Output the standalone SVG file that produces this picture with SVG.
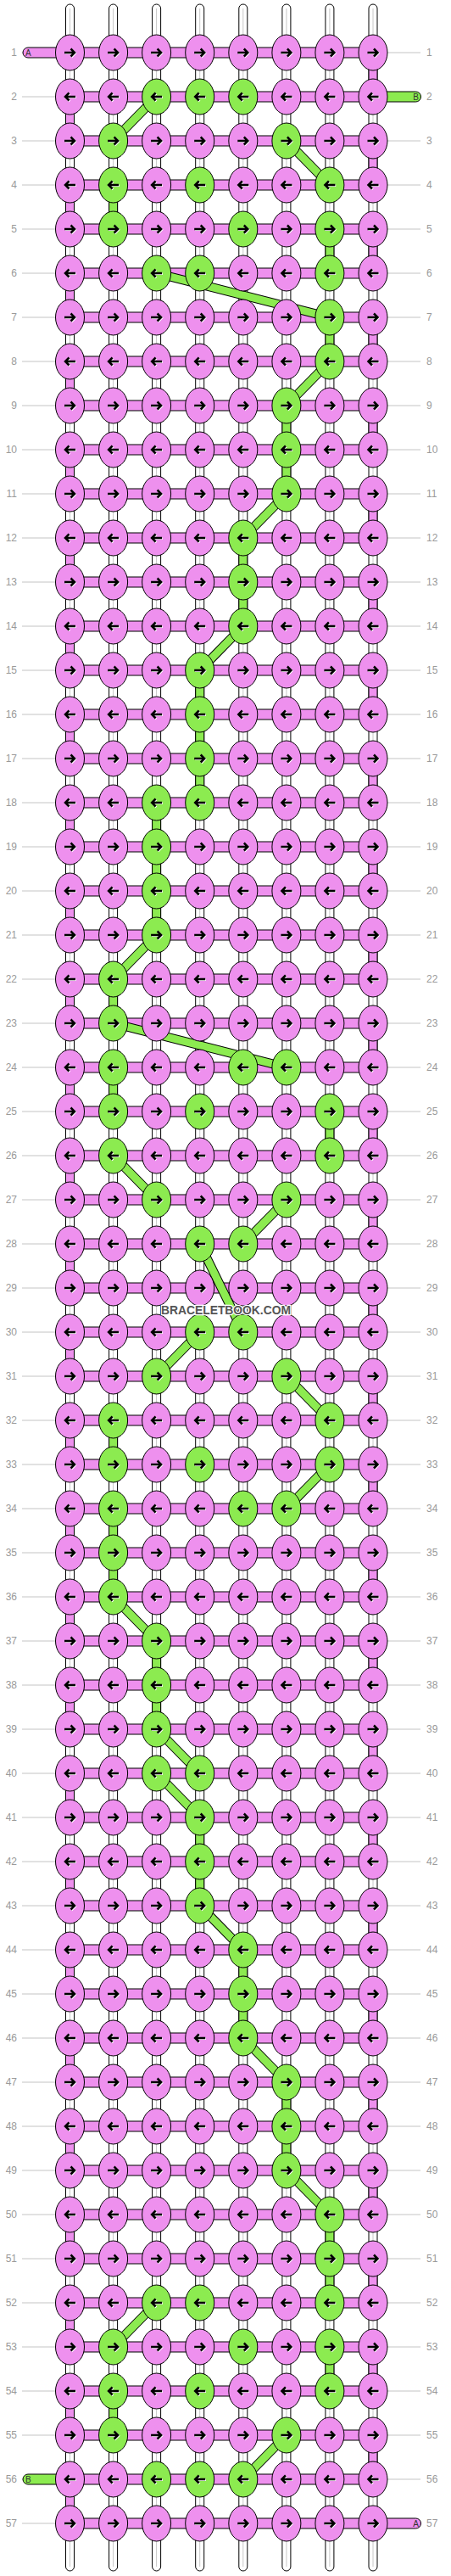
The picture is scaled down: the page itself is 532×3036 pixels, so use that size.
<svg xmlns="http://www.w3.org/2000/svg" xmlns:xlink="http://www.w3.org/1999/xlink" width="532" height="3036" viewBox="0 0 532 3036">
<style>
.p{fill:#EE90EE}
.g{fill:#8CEB50}
.k{stroke:#000;stroke-width:1}
.seg{stroke:#000;stroke-width:1}
.tube{fill:#fff;stroke:#000;stroke-width:1}
.lbl{font-family:"Liberation Sans",Arial,sans-serif;font-size:12px;fill:#9a9a9a}
.l{text-anchor:end}
.tl{font-family:"Liberation Sans",Arial,sans-serif;font-size:10px;fill:#333}
.dk{stroke:#000;stroke-width:11;fill:none}
.dg{stroke:#8CEB50;stroke-width:9;fill:none}
.wm{font-family:"Liberation Sans",Arial,sans-serif;font-size:15px;font-weight:bold;fill:#555;stroke:#fff;stroke-width:2.5;paint-order:stroke;text-anchor:middle}
</style>
<defs>
<path id="aR" d="M-6.5 0H5M1 -4.5L5.5 0L1 4.5" fill="none" stroke-width="2.5"/>
<path id="aL" d="M6.5 0H-5M-1 -4.5L-5.5 0L-1 4.5" fill="none" stroke-width="2.5"/>
<g id="pR"><ellipse rx="17" ry="21" class="p k"/><use href="#aR" stroke="#fff" x="0.8" y="0.8"/><use href="#aR" stroke="#000"/></g>
<g id="pL"><ellipse rx="17" ry="21" class="p k"/><use href="#aL" stroke="#fff" x="0.8" y="0.8"/><use href="#aL" stroke="#000"/></g>
<g id="gR"><ellipse rx="17" ry="21" class="g k"/><use href="#aR" stroke="#fff" x="0.8" y="0.8"/><use href="#aR" stroke="#000"/></g>
<g id="gL"><ellipse rx="17" ry="21" class="g k"/><use href="#aL" stroke="#fff" x="0.8" y="0.8"/><use href="#aL" stroke="#000"/></g>
</defs>
<rect width="532" height="3036" fill="#fff"/>
<path id="rowlines" fill="none" stroke="#c4c4c4" stroke-width="1" d="M26 62H496M26 114H496M26 166H496M26 218H496M26 270H496M26 322H496M26 374H496M26 426H496M26 478H496M26 530H496M26 582H496M26 634H496M26 686H496M26 738H496M26 790H496M26 842H496M26 894H496M26 946H496M26 998H496M26 1050H496M26 1102H496M26 1154H496M26 1206H496M26 1258H496M26 1310H496M26 1362H496M26 1414H496M26 1466H496M26 1518H496M26 1570H496M26 1622H496M26 1674H496M26 1726H496M26 1778H496M26 1830H496M26 1882H496M26 1934H496M26 1986H496M26 2038H496M26 2090H496M26 2142H496M26 2194H496M26 2246H496M26 2298H496M26 2350H496M26 2402H496M26 2454H496M26 2506H496M26 2558H496M26 2610H496M26 2662H496M26 2714H496M26 2766H496M26 2818H496M26 2870H496M26 2922H496M26 2974H496"/>
<g id="labels" class="lbl">
<text class="l" x="20" y="66.3">1</text><text x="503" y="66.3">1</text>
<text class="l" x="20" y="118.3">2</text><text x="503" y="118.3">2</text>
<text class="l" x="20" y="170.3">3</text><text x="503" y="170.3">3</text>
<text class="l" x="20" y="222.3">4</text><text x="503" y="222.3">4</text>
<text class="l" x="20" y="274.3">5</text><text x="503" y="274.3">5</text>
<text class="l" x="20" y="326.3">6</text><text x="503" y="326.3">6</text>
<text class="l" x="20" y="378.3">7</text><text x="503" y="378.3">7</text>
<text class="l" x="20" y="430.3">8</text><text x="503" y="430.3">8</text>
<text class="l" x="20" y="482.3">9</text><text x="503" y="482.3">9</text>
<text class="l" x="20" y="534.3">10</text><text x="503" y="534.3">10</text>
<text class="l" x="20" y="586.3">11</text><text x="503" y="586.3">11</text>
<text class="l" x="20" y="638.3">12</text><text x="503" y="638.3">12</text>
<text class="l" x="20" y="690.3">13</text><text x="503" y="690.3">13</text>
<text class="l" x="20" y="742.3">14</text><text x="503" y="742.3">14</text>
<text class="l" x="20" y="794.3">15</text><text x="503" y="794.3">15</text>
<text class="l" x="20" y="846.3">16</text><text x="503" y="846.3">16</text>
<text class="l" x="20" y="898.3">17</text><text x="503" y="898.3">17</text>
<text class="l" x="20" y="950.3">18</text><text x="503" y="950.3">18</text>
<text class="l" x="20" y="1002.3">19</text><text x="503" y="1002.3">19</text>
<text class="l" x="20" y="1054.3">20</text><text x="503" y="1054.3">20</text>
<text class="l" x="20" y="1106.3">21</text><text x="503" y="1106.3">21</text>
<text class="l" x="20" y="1158.3">22</text><text x="503" y="1158.3">22</text>
<text class="l" x="20" y="1210.3">23</text><text x="503" y="1210.3">23</text>
<text class="l" x="20" y="1262.3">24</text><text x="503" y="1262.3">24</text>
<text class="l" x="20" y="1314.3">25</text><text x="503" y="1314.3">25</text>
<text class="l" x="20" y="1366.3">26</text><text x="503" y="1366.3">26</text>
<text class="l" x="20" y="1418.3">27</text><text x="503" y="1418.3">27</text>
<text class="l" x="20" y="1470.3">28</text><text x="503" y="1470.3">28</text>
<text class="l" x="20" y="1522.3">29</text><text x="503" y="1522.3">29</text>
<text class="l" x="20" y="1574.3">30</text><text x="503" y="1574.3">30</text>
<text class="l" x="20" y="1626.3">31</text><text x="503" y="1626.3">31</text>
<text class="l" x="20" y="1678.3">32</text><text x="503" y="1678.3">32</text>
<text class="l" x="20" y="1730.3">33</text><text x="503" y="1730.3">33</text>
<text class="l" x="20" y="1782.3">34</text><text x="503" y="1782.3">34</text>
<text class="l" x="20" y="1834.3">35</text><text x="503" y="1834.3">35</text>
<text class="l" x="20" y="1886.3">36</text><text x="503" y="1886.3">36</text>
<text class="l" x="20" y="1938.3">37</text><text x="503" y="1938.3">37</text>
<text class="l" x="20" y="1990.3">38</text><text x="503" y="1990.3">38</text>
<text class="l" x="20" y="2042.3">39</text><text x="503" y="2042.3">39</text>
<text class="l" x="20" y="2094.3">40</text><text x="503" y="2094.3">40</text>
<text class="l" x="20" y="2146.3">41</text><text x="503" y="2146.3">41</text>
<text class="l" x="20" y="2198.3">42</text><text x="503" y="2198.3">42</text>
<text class="l" x="20" y="2250.3">43</text><text x="503" y="2250.3">43</text>
<text class="l" x="20" y="2302.3">44</text><text x="503" y="2302.3">44</text>
<text class="l" x="20" y="2354.3">45</text><text x="503" y="2354.3">45</text>
<text class="l" x="20" y="2406.3">46</text><text x="503" y="2406.3">46</text>
<text class="l" x="20" y="2458.3">47</text><text x="503" y="2458.3">47</text>
<text class="l" x="20" y="2510.3">48</text><text x="503" y="2510.3">48</text>
<text class="l" x="20" y="2562.3">49</text><text x="503" y="2562.3">49</text>
<text class="l" x="20" y="2614.3">50</text><text x="503" y="2614.3">50</text>
<text class="l" x="20" y="2666.3">51</text><text x="503" y="2666.3">51</text>
<text class="l" x="20" y="2718.3">52</text><text x="503" y="2718.3">52</text>
<text class="l" x="20" y="2770.3">53</text><text x="503" y="2770.3">53</text>
<text class="l" x="20" y="2822.3">54</text><text x="503" y="2822.3">54</text>
<text class="l" x="20" y="2874.3">55</text><text x="503" y="2874.3">55</text>
<text class="l" x="20" y="2926.3">56</text><text x="503" y="2926.3">56</text>
<text class="l" x="20" y="2978.3">57</text><text x="503" y="2978.3">57</text>
</g>
<g id="connectors">
<g id="strands">
<rect class="tube" x="77.5" y="5" width="10" height="3025" rx="5"/>
<rect class="tube" x="128.6" y="5" width="10" height="3025" rx="5"/>
<rect class="tube" x="179.6" y="5" width="10" height="3025" rx="5"/>
<rect class="tube" x="230.7" y="5" width="10" height="3025" rx="5"/>
<rect class="tube" x="281.8" y="5" width="10" height="3025" rx="5"/>
<rect class="tube" x="332.9" y="5" width="10" height="3025" rx="5"/>
<rect class="tube" x="383.9" y="5" width="10" height="3025" rx="5"/>
<rect class="tube" x="435" y="5" width="10" height="3025" rx="5"/>
<path fill="none" stroke="#c8c8c8" stroke-width="1" d="M82.5 10V3025M133.6 10V3025M184.6 10V3025M235.7 10V3025M286.8 10V3025M337.9 10V3025M388.9 10V3025M440 10V3025"/>
</g>
<g id="rowbars" class="p seg">
<rect x="82.5" y="56" width="357.5" height="12"/><rect x="82.5" y="108" width="357.5" height="12"/><rect x="82.5" y="160" width="357.5" height="12"/><rect x="82.5" y="212" width="357.5" height="12"/><rect x="82.5" y="264" width="357.5" height="12"/><rect x="82.5" y="316" width="357.5" height="12"/><rect x="82.5" y="368" width="357.5" height="12"/><rect x="82.5" y="420" width="357.5" height="12"/><rect x="82.5" y="472" width="357.5" height="12"/><rect x="82.5" y="524" width="357.5" height="12"/>
<rect x="82.5" y="576" width="357.5" height="12"/><rect x="82.5" y="628" width="357.5" height="12"/><rect x="82.5" y="680" width="357.5" height="12"/><rect x="82.5" y="732" width="357.5" height="12"/><rect x="82.5" y="784" width="357.5" height="12"/><rect x="82.5" y="836" width="357.5" height="12"/><rect x="82.5" y="888" width="357.5" height="12"/><rect x="82.5" y="940" width="357.5" height="12"/><rect x="82.5" y="992" width="357.5" height="12"/><rect x="82.5" y="1044" width="357.5" height="12"/>
<rect x="82.5" y="1096" width="357.5" height="12"/><rect x="82.5" y="1148" width="357.5" height="12"/><rect x="82.5" y="1200" width="357.5" height="12"/><rect x="82.5" y="1252" width="357.5" height="12"/><rect x="82.5" y="1304" width="357.5" height="12"/><rect x="82.5" y="1356" width="357.5" height="12"/><rect x="82.5" y="1408" width="357.5" height="12"/><rect x="82.5" y="1460" width="357.5" height="12"/><rect x="82.5" y="1512" width="357.5" height="12"/><rect x="82.5" y="1564" width="357.5" height="12"/>
<rect x="82.5" y="1616" width="357.5" height="12"/><rect x="82.5" y="1668" width="357.5" height="12"/><rect x="82.5" y="1720" width="357.5" height="12"/><rect x="82.5" y="1772" width="357.5" height="12"/><rect x="82.5" y="1824" width="357.5" height="12"/><rect x="82.5" y="1876" width="357.5" height="12"/><rect x="82.5" y="1928" width="357.5" height="12"/><rect x="82.5" y="1980" width="357.5" height="12"/><rect x="82.5" y="2032" width="357.5" height="12"/><rect x="82.5" y="2084" width="357.5" height="12"/>
<rect x="82.5" y="2136" width="357.5" height="12"/><rect x="82.5" y="2188" width="357.5" height="12"/><rect x="82.5" y="2240" width="357.5" height="12"/><rect x="82.5" y="2292" width="357.5" height="12"/><rect x="82.5" y="2344" width="357.5" height="12"/><rect x="82.5" y="2396" width="357.5" height="12"/><rect x="82.5" y="2448" width="357.5" height="12"/><rect x="82.5" y="2500" width="357.5" height="12"/><rect x="82.5" y="2552" width="357.5" height="12"/><rect x="82.5" y="2604" width="357.5" height="12"/>
<rect x="82.5" y="2656" width="357.5" height="12"/><rect x="82.5" y="2708" width="357.5" height="12"/><rect x="82.5" y="2760" width="357.5" height="12"/><rect x="82.5" y="2812" width="357.5" height="12"/><rect x="82.5" y="2864" width="357.5" height="12"/><rect x="82.5" y="2916" width="357.5" height="12"/><rect x="82.5" y="2968" width="357.5" height="12"/>
</g>
<g id="turns" class="p seg">
<rect x="435" y="62" width="10" height="52"/><rect x="435" y="166" width="10" height="52"/><rect x="435" y="270" width="10" height="52"/><rect x="435" y="374" width="10" height="52"/><rect x="435" y="478" width="10" height="52"/><rect x="435" y="582" width="10" height="52"/><rect x="435" y="686" width="10" height="52"/><rect x="435" y="790" width="10" height="52"/><rect x="435" y="894" width="10" height="52"/><rect x="435" y="998" width="10" height="52"/><rect x="435" y="1102" width="10" height="52"/><rect x="435" y="1206" width="10" height="52"/><rect x="435" y="1310" width="10" height="52"/><rect x="435" y="1414" width="10" height="52"/>
<rect x="435" y="1518" width="10" height="52"/><rect x="435" y="1622" width="10" height="52"/><rect x="435" y="1726" width="10" height="52"/><rect x="435" y="1830" width="10" height="52"/><rect x="435" y="1934" width="10" height="52"/><rect x="435" y="2038" width="10" height="52"/><rect x="435" y="2142" width="10" height="52"/><rect x="435" y="2246" width="10" height="52"/><rect x="435" y="2350" width="10" height="52"/><rect x="435" y="2454" width="10" height="52"/><rect x="435" y="2558" width="10" height="52"/><rect x="435" y="2662" width="10" height="52"/><rect x="435" y="2766" width="10" height="52"/><rect x="435" y="2870" width="10" height="52"/>
<rect x="77.5" y="114" width="10" height="52"/><rect x="77.5" y="218" width="10" height="52"/><rect x="77.5" y="322" width="10" height="52"/><rect x="77.5" y="426" width="10" height="52"/><rect x="77.5" y="530" width="10" height="52"/><rect x="77.5" y="634" width="10" height="52"/><rect x="77.5" y="738" width="10" height="52"/><rect x="77.5" y="842" width="10" height="52"/><rect x="77.5" y="946" width="10" height="52"/><rect x="77.5" y="1050" width="10" height="52"/><rect x="77.5" y="1154" width="10" height="52"/><rect x="77.5" y="1258" width="10" height="52"/><rect x="77.5" y="1362" width="10" height="52"/><rect x="77.5" y="1466" width="10" height="52"/>
<rect x="77.5" y="1570" width="10" height="52"/><rect x="77.5" y="1674" width="10" height="52"/><rect x="77.5" y="1778" width="10" height="52"/><rect x="77.5" y="1882" width="10" height="52"/><rect x="77.5" y="1986" width="10" height="52"/><rect x="77.5" y="2090" width="10" height="52"/><rect x="77.5" y="2194" width="10" height="52"/><rect x="77.5" y="2298" width="10" height="52"/><rect x="77.5" y="2402" width="10" height="52"/><rect x="77.5" y="2506" width="10" height="52"/><rect x="77.5" y="2610" width="10" height="52"/><rect x="77.5" y="2714" width="10" height="52"/><rect x="77.5" y="2818" width="10" height="52"/><rect x="77.5" y="2922" width="10" height="52"/>
</g>
<g id="bvertical" class="g seg">
<rect x="128.6" y="218" width="10" height="52"/><rect x="383.9" y="270" width="10" height="52"/><rect x="383.9" y="374" width="10" height="52"/><rect x="332.9" y="478" width="10" height="52"/><rect x="332.9" y="530" width="10" height="52"/><rect x="281.8" y="634" width="10" height="52"/><rect x="281.8" y="686" width="10" height="52"/><rect x="230.7" y="790" width="10" height="52"/><rect x="230.7" y="842" width="10" height="52"/><rect x="230.7" y="894" width="10" height="52"/><rect x="179.6" y="946" width="10" height="52"/><rect x="179.6" y="998" width="10" height="52"/><rect x="179.6" y="1050" width="10" height="52"/><rect x="128.6" y="1154" width="10" height="52"/><rect x="128.6" y="1258" width="10" height="52"/><rect x="383.9" y="1310" width="10" height="52"/>
<rect x="128.6" y="1674" width="10" height="52"/><rect x="128.6" y="1778" width="10" height="52"/><rect x="128.6" y="1830" width="10" height="52"/><rect x="179.6" y="1934" width="10" height="52"/><rect x="179.6" y="1986" width="10" height="52"/><rect x="230.7" y="2142" width="10" height="52"/><rect x="230.7" y="2194" width="10" height="52"/><rect x="281.8" y="2298" width="10" height="52"/><rect x="281.8" y="2350" width="10" height="52"/><rect x="332.9" y="2454" width="10" height="52"/><rect x="332.9" y="2506" width="10" height="52"/><rect x="383.9" y="2610" width="10" height="52"/><rect x="383.9" y="2662" width="10" height="52"/><rect x="383.9" y="2766" width="10" height="52"/><rect x="128.6" y="2818" width="10" height="52"/>
</g>
<g id="tails">
<rect class="p seg" x="27" y="56" width="60" height="12" rx="6"/>
<rect class="g seg" x="435" y="108" width="61.5" height="12" rx="6"/>
<rect class="g seg" x="27" y="2916" width="60" height="12" rx="6"/>
<rect class="p seg" x="435" y="2968" width="61.5" height="12" rx="6"/>
<text class="tl" x="30" y="65.6">A</text>
<text class="tl" x="494" y="117.6" text-anchor="end">B</text>
<text class="tl" x="30" y="2925.6">B</text>
<text class="tl" x="494" y="2977.6" text-anchor="end">A</text>
</g>
<g id="bdiagonals">
<path class="dk" d="M184.6 114L133.6 166M337.9 166L388.9 218M184.6 322L388.9 374M388.9 426L337.9 478M337.9 582L286.8 634M286.8 738L235.7 790M184.6 1102L133.6 1154M133.6 1206L337.9 1258M133.6 1362L184.6 1414M337.9 1414L286.8 1466M235.7 1466L286.8 1570M235.7 1570L184.6 1622M337.9 1622L388.9 1674M388.9 1726L337.9 1778M133.6 1882L184.6 1934M184.6 2038L235.7 2090M184.6 2090L235.7 2142M235.7 2246L286.8 2298M286.8 2402L337.9 2454M337.9 2558L388.9 2610M184.6 2714L133.6 2766M337.9 2870L286.8 2922"/>
<path class="dg" d="M184.6 114L133.6 166M337.9 166L388.9 218M184.6 322L388.9 374M388.9 426L337.9 478M337.9 582L286.8 634M286.8 738L235.7 790M184.6 1102L133.6 1154M133.6 1206L337.9 1258M133.6 1362L184.6 1414M337.9 1414L286.8 1466M235.7 1466L286.8 1570M235.7 1570L184.6 1622M337.9 1622L388.9 1674M388.9 1726L337.9 1778M133.6 1882L184.6 1934M184.6 2038L235.7 2090M184.6 2090L235.7 2142M235.7 2246L286.8 2298M286.8 2402L337.9 2454M337.9 2558L388.9 2610M184.6 2714L133.6 2766M337.9 2870L286.8 2922"/>
</g>
</g>
<g id="knots">
<g id="row1" transform="translate(0 62)"><g id="k1-1"><use href="#pR" x="82.5"/></g><g id="k1-2"><use href="#pR" x="133.6"/></g><g id="k1-3"><use href="#pR" x="184.6"/></g><g id="k1-4"><use href="#pR" x="235.7"/></g><g id="k1-5"><use href="#pR" x="286.8"/></g><g id="k1-6"><use href="#pR" x="337.9"/></g><g id="k1-7"><use href="#pR" x="388.9"/></g><g id="k1-8"><use href="#pR" x="440"/></g></g>
<g id="row2" transform="translate(0 114)"><g id="k2-1"><use href="#pL" x="82.5"/></g><g id="k2-2"><use href="#pL" x="133.6"/></g><g id="k2-3"><use href="#gL" x="184.6"/></g><g id="k2-4"><use href="#gL" x="235.7"/></g><g id="k2-5"><use href="#gL" x="286.8"/></g><g id="k2-6"><use href="#pL" x="337.9"/></g><g id="k2-7"><use href="#pL" x="388.9"/></g><g id="k2-8"><use href="#pL" x="440"/></g></g>
<g id="row3" transform="translate(0 166)"><g id="k3-1"><use href="#pR" x="82.5"/></g><g id="k3-2"><use href="#gR" x="133.6"/></g><g id="k3-3"><use href="#pR" x="184.6"/></g><g id="k3-4"><use href="#pR" x="235.7"/></g><g id="k3-5"><use href="#pR" x="286.8"/></g><g id="k3-6"><use href="#gR" x="337.9"/></g><g id="k3-7"><use href="#pR" x="388.9"/></g><g id="k3-8"><use href="#pR" x="440"/></g></g>
<g id="row4" transform="translate(0 218)"><g id="k4-1"><use href="#pL" x="82.5"/></g><g id="k4-2"><use href="#gL" x="133.6"/></g><g id="k4-3"><use href="#pL" x="184.6"/></g><g id="k4-4"><use href="#gL" x="235.7"/></g><g id="k4-5"><use href="#pL" x="286.8"/></g><g id="k4-6"><use href="#pL" x="337.9"/></g><g id="k4-7"><use href="#gL" x="388.9"/></g><g id="k4-8"><use href="#pL" x="440"/></g></g>
<g id="row5" transform="translate(0 270)"><g id="k5-1"><use href="#pR" x="82.5"/></g><g id="k5-2"><use href="#gR" x="133.6"/></g><g id="k5-3"><use href="#pR" x="184.6"/></g><g id="k5-4"><use href="#pR" x="235.7"/></g><g id="k5-5"><use href="#gR" x="286.8"/></g><g id="k5-6"><use href="#pR" x="337.9"/></g><g id="k5-7"><use href="#gR" x="388.9"/></g><g id="k5-8"><use href="#pR" x="440"/></g></g>
<g id="row6" transform="translate(0 322)"><g id="k6-1"><use href="#pL" x="82.5"/></g><g id="k6-2"><use href="#pL" x="133.6"/></g><g id="k6-3"><use href="#gL" x="184.6"/></g><g id="k6-4"><use href="#gL" x="235.7"/></g><g id="k6-5"><use href="#pL" x="286.8"/></g><g id="k6-6"><use href="#pL" x="337.9"/></g><g id="k6-7"><use href="#gL" x="388.9"/></g><g id="k6-8"><use href="#pL" x="440"/></g></g>
<g id="row7" transform="translate(0 374)"><g id="k7-1"><use href="#pR" x="82.5"/></g><g id="k7-2"><use href="#pR" x="133.6"/></g><g id="k7-3"><use href="#pR" x="184.6"/></g><g id="k7-4"><use href="#pR" x="235.7"/></g><g id="k7-5"><use href="#pR" x="286.8"/></g><g id="k7-6"><use href="#pR" x="337.9"/></g><g id="k7-7"><use href="#gR" x="388.9"/></g><g id="k7-8"><use href="#pR" x="440"/></g></g>
<g id="row8" transform="translate(0 426)"><g id="k8-1"><use href="#pL" x="82.5"/></g><g id="k8-2"><use href="#pL" x="133.6"/></g><g id="k8-3"><use href="#pL" x="184.6"/></g><g id="k8-4"><use href="#pL" x="235.7"/></g><g id="k8-5"><use href="#pL" x="286.8"/></g><g id="k8-6"><use href="#pL" x="337.9"/></g><g id="k8-7"><use href="#gL" x="388.9"/></g><g id="k8-8"><use href="#pL" x="440"/></g></g>
<g id="row9" transform="translate(0 478)"><g id="k9-1"><use href="#pR" x="82.5"/></g><g id="k9-2"><use href="#pR" x="133.6"/></g><g id="k9-3"><use href="#pR" x="184.6"/></g><g id="k9-4"><use href="#pR" x="235.7"/></g><g id="k9-5"><use href="#pR" x="286.8"/></g><g id="k9-6"><use href="#gR" x="337.9"/></g><g id="k9-7"><use href="#pR" x="388.9"/></g><g id="k9-8"><use href="#pR" x="440"/></g></g>
<g id="row10" transform="translate(0 530)"><g id="k10-1"><use href="#pL" x="82.5"/></g><g id="k10-2"><use href="#pL" x="133.6"/></g><g id="k10-3"><use href="#pL" x="184.6"/></g><g id="k10-4"><use href="#pL" x="235.7"/></g><g id="k10-5"><use href="#pL" x="286.8"/></g><g id="k10-6"><use href="#gL" x="337.9"/></g><g id="k10-7"><use href="#pL" x="388.9"/></g><g id="k10-8"><use href="#pL" x="440"/></g></g>
<g id="row11" transform="translate(0 582)"><g id="k11-1"><use href="#pR" x="82.5"/></g><g id="k11-2"><use href="#pR" x="133.6"/></g><g id="k11-3"><use href="#pR" x="184.6"/></g><g id="k11-4"><use href="#pR" x="235.7"/></g><g id="k11-5"><use href="#pR" x="286.8"/></g><g id="k11-6"><use href="#gR" x="337.9"/></g><g id="k11-7"><use href="#pR" x="388.9"/></g><g id="k11-8"><use href="#pR" x="440"/></g></g>
<g id="row12" transform="translate(0 634)"><g id="k12-1"><use href="#pL" x="82.5"/></g><g id="k12-2"><use href="#pL" x="133.6"/></g><g id="k12-3"><use href="#pL" x="184.6"/></g><g id="k12-4"><use href="#pL" x="235.7"/></g><g id="k12-5"><use href="#gL" x="286.8"/></g><g id="k12-6"><use href="#pL" x="337.9"/></g><g id="k12-7"><use href="#pL" x="388.9"/></g><g id="k12-8"><use href="#pL" x="440"/></g></g>
<g id="row13" transform="translate(0 686)"><g id="k13-1"><use href="#pR" x="82.5"/></g><g id="k13-2"><use href="#pR" x="133.6"/></g><g id="k13-3"><use href="#pR" x="184.6"/></g><g id="k13-4"><use href="#pR" x="235.7"/></g><g id="k13-5"><use href="#gR" x="286.8"/></g><g id="k13-6"><use href="#pR" x="337.9"/></g><g id="k13-7"><use href="#pR" x="388.9"/></g><g id="k13-8"><use href="#pR" x="440"/></g></g>
<g id="row14" transform="translate(0 738)"><g id="k14-1"><use href="#pL" x="82.5"/></g><g id="k14-2"><use href="#pL" x="133.6"/></g><g id="k14-3"><use href="#pL" x="184.6"/></g><g id="k14-4"><use href="#pL" x="235.7"/></g><g id="k14-5"><use href="#gL" x="286.8"/></g><g id="k14-6"><use href="#pL" x="337.9"/></g><g id="k14-7"><use href="#pL" x="388.9"/></g><g id="k14-8"><use href="#pL" x="440"/></g></g>
<g id="row15" transform="translate(0 790)"><g id="k15-1"><use href="#pR" x="82.5"/></g><g id="k15-2"><use href="#pR" x="133.6"/></g><g id="k15-3"><use href="#pR" x="184.6"/></g><g id="k15-4"><use href="#gR" x="235.7"/></g><g id="k15-5"><use href="#pR" x="286.8"/></g><g id="k15-6"><use href="#pR" x="337.9"/></g><g id="k15-7"><use href="#pR" x="388.9"/></g><g id="k15-8"><use href="#pR" x="440"/></g></g>
<g id="row16" transform="translate(0 842)"><g id="k16-1"><use href="#pL" x="82.5"/></g><g id="k16-2"><use href="#pL" x="133.6"/></g><g id="k16-3"><use href="#pL" x="184.6"/></g><g id="k16-4"><use href="#gL" x="235.7"/></g><g id="k16-5"><use href="#pL" x="286.8"/></g><g id="k16-6"><use href="#pL" x="337.9"/></g><g id="k16-7"><use href="#pL" x="388.9"/></g><g id="k16-8"><use href="#pL" x="440"/></g></g>
<g id="row17" transform="translate(0 894)"><g id="k17-1"><use href="#pR" x="82.5"/></g><g id="k17-2"><use href="#pR" x="133.6"/></g><g id="k17-3"><use href="#pR" x="184.6"/></g><g id="k17-4"><use href="#gR" x="235.7"/></g><g id="k17-5"><use href="#pR" x="286.8"/></g><g id="k17-6"><use href="#pR" x="337.9"/></g><g id="k17-7"><use href="#pR" x="388.9"/></g><g id="k17-8"><use href="#pR" x="440"/></g></g>
<g id="row18" transform="translate(0 946)"><g id="k18-1"><use href="#pL" x="82.5"/></g><g id="k18-2"><use href="#pL" x="133.6"/></g><g id="k18-3"><use href="#gL" x="184.6"/></g><g id="k18-4"><use href="#gL" x="235.7"/></g><g id="k18-5"><use href="#pL" x="286.8"/></g><g id="k18-6"><use href="#pL" x="337.9"/></g><g id="k18-7"><use href="#pL" x="388.9"/></g><g id="k18-8"><use href="#pL" x="440"/></g></g>
<g id="row19" transform="translate(0 998)"><g id="k19-1"><use href="#pR" x="82.5"/></g><g id="k19-2"><use href="#pR" x="133.6"/></g><g id="k19-3"><use href="#gR" x="184.6"/></g><g id="k19-4"><use href="#pR" x="235.7"/></g><g id="k19-5"><use href="#pR" x="286.8"/></g><g id="k19-6"><use href="#pR" x="337.9"/></g><g id="k19-7"><use href="#pR" x="388.9"/></g><g id="k19-8"><use href="#pR" x="440"/></g></g>
<g id="row20" transform="translate(0 1050)"><g id="k20-1"><use href="#pL" x="82.5"/></g><g id="k20-2"><use href="#pL" x="133.6"/></g><g id="k20-3"><use href="#gL" x="184.6"/></g><g id="k20-4"><use href="#pL" x="235.7"/></g><g id="k20-5"><use href="#pL" x="286.8"/></g><g id="k20-6"><use href="#pL" x="337.9"/></g><g id="k20-7"><use href="#pL" x="388.9"/></g><g id="k20-8"><use href="#pL" x="440"/></g></g>
<g id="row21" transform="translate(0 1102)"><g id="k21-1"><use href="#pR" x="82.5"/></g><g id="k21-2"><use href="#pR" x="133.6"/></g><g id="k21-3"><use href="#gR" x="184.6"/></g><g id="k21-4"><use href="#pR" x="235.7"/></g><g id="k21-5"><use href="#pR" x="286.8"/></g><g id="k21-6"><use href="#pR" x="337.9"/></g><g id="k21-7"><use href="#pR" x="388.9"/></g><g id="k21-8"><use href="#pR" x="440"/></g></g>
<g id="row22" transform="translate(0 1154)"><g id="k22-1"><use href="#pL" x="82.5"/></g><g id="k22-2"><use href="#gL" x="133.6"/></g><g id="k22-3"><use href="#pL" x="184.6"/></g><g id="k22-4"><use href="#pL" x="235.7"/></g><g id="k22-5"><use href="#pL" x="286.8"/></g><g id="k22-6"><use href="#pL" x="337.9"/></g><g id="k22-7"><use href="#pL" x="388.9"/></g><g id="k22-8"><use href="#pL" x="440"/></g></g>
<g id="row23" transform="translate(0 1206)"><g id="k23-1"><use href="#pR" x="82.5"/></g><g id="k23-2"><use href="#gR" x="133.6"/></g><g id="k23-3"><use href="#pR" x="184.6"/></g><g id="k23-4"><use href="#pR" x="235.7"/></g><g id="k23-5"><use href="#pR" x="286.8"/></g><g id="k23-6"><use href="#pR" x="337.9"/></g><g id="k23-7"><use href="#pR" x="388.9"/></g><g id="k23-8"><use href="#pR" x="440"/></g></g>
<g id="row24" transform="translate(0 1258)"><g id="k24-1"><use href="#pL" x="82.5"/></g><g id="k24-2"><use href="#gL" x="133.6"/></g><g id="k24-3"><use href="#pL" x="184.6"/></g><g id="k24-4"><use href="#pL" x="235.7"/></g><g id="k24-5"><use href="#gL" x="286.8"/></g><g id="k24-6"><use href="#gL" x="337.9"/></g><g id="k24-7"><use href="#pL" x="388.9"/></g><g id="k24-8"><use href="#pL" x="440"/></g></g>
<g id="row25" transform="translate(0 1310)"><g id="k25-1"><use href="#pR" x="82.5"/></g><g id="k25-2"><use href="#gR" x="133.6"/></g><g id="k25-3"><use href="#pR" x="184.6"/></g><g id="k25-4"><use href="#gR" x="235.7"/></g><g id="k25-5"><use href="#pR" x="286.8"/></g><g id="k25-6"><use href="#pR" x="337.9"/></g><g id="k25-7"><use href="#gR" x="388.9"/></g><g id="k25-8"><use href="#pR" x="440"/></g></g>
<g id="row26" transform="translate(0 1362)"><g id="k26-1"><use href="#pL" x="82.5"/></g><g id="k26-2"><use href="#gL" x="133.6"/></g><g id="k26-3"><use href="#pL" x="184.6"/></g><g id="k26-4"><use href="#pL" x="235.7"/></g><g id="k26-5"><use href="#pL" x="286.8"/></g><g id="k26-6"><use href="#pL" x="337.9"/></g><g id="k26-7"><use href="#gL" x="388.9"/></g><g id="k26-8"><use href="#pL" x="440"/></g></g>
<g id="row27" transform="translate(0 1414)"><g id="k27-1"><use href="#pR" x="82.5"/></g><g id="k27-2"><use href="#pR" x="133.6"/></g><g id="k27-3"><use href="#gR" x="184.6"/></g><g id="k27-4"><use href="#pR" x="235.7"/></g><g id="k27-5"><use href="#pR" x="286.8"/></g><g id="k27-6"><use href="#gR" x="337.9"/></g><g id="k27-7"><use href="#pR" x="388.9"/></g><g id="k27-8"><use href="#pR" x="440"/></g></g>
<g id="row28" transform="translate(0 1466)"><g id="k28-1"><use href="#pL" x="82.5"/></g><g id="k28-2"><use href="#pL" x="133.6"/></g><g id="k28-3"><use href="#pL" x="184.6"/></g><g id="k28-4"><use href="#gL" x="235.7"/></g><g id="k28-5"><use href="#gL" x="286.8"/></g><g id="k28-6"><use href="#pL" x="337.9"/></g><g id="k28-7"><use href="#pL" x="388.9"/></g><g id="k28-8"><use href="#pL" x="440"/></g></g>
<g id="row29" transform="translate(0 1518)"><g id="k29-1"><use href="#pR" x="82.5"/></g><g id="k29-2"><use href="#pR" x="133.6"/></g><g id="k29-3"><use href="#pR" x="184.6"/></g><g id="k29-4"><use href="#pR" x="235.7"/></g><g id="k29-5"><use href="#pR" x="286.8"/></g><g id="k29-6"><use href="#pR" x="337.9"/></g><g id="k29-7"><use href="#pR" x="388.9"/></g><g id="k29-8"><use href="#pR" x="440"/></g></g>
<g id="row30" transform="translate(0 1570)"><g id="k30-1"><use href="#pL" x="82.5"/></g><g id="k30-2"><use href="#pL" x="133.6"/></g><g id="k30-3"><use href="#pL" x="184.6"/></g><g id="k30-4"><use href="#gL" x="235.7"/></g><g id="k30-5"><use href="#gL" x="286.8"/></g><g id="k30-6"><use href="#pL" x="337.9"/></g><g id="k30-7"><use href="#pL" x="388.9"/></g><g id="k30-8"><use href="#pL" x="440"/></g></g>
<g id="row31" transform="translate(0 1622)"><g id="k31-1"><use href="#pR" x="82.5"/></g><g id="k31-2"><use href="#pR" x="133.6"/></g><g id="k31-3"><use href="#gR" x="184.6"/></g><g id="k31-4"><use href="#pR" x="235.7"/></g><g id="k31-5"><use href="#pR" x="286.8"/></g><g id="k31-6"><use href="#gR" x="337.9"/></g><g id="k31-7"><use href="#pR" x="388.9"/></g><g id="k31-8"><use href="#pR" x="440"/></g></g>
<g id="row32" transform="translate(0 1674)"><g id="k32-1"><use href="#pL" x="82.5"/></g><g id="k32-2"><use href="#gL" x="133.6"/></g><g id="k32-3"><use href="#pL" x="184.6"/></g><g id="k32-4"><use href="#pL" x="235.7"/></g><g id="k32-5"><use href="#pL" x="286.8"/></g><g id="k32-6"><use href="#pL" x="337.9"/></g><g id="k32-7"><use href="#gL" x="388.9"/></g><g id="k32-8"><use href="#pL" x="440"/></g></g>
<g id="row33" transform="translate(0 1726)"><g id="k33-1"><use href="#pR" x="82.5"/></g><g id="k33-2"><use href="#gR" x="133.6"/></g><g id="k33-3"><use href="#pR" x="184.6"/></g><g id="k33-4"><use href="#gR" x="235.7"/></g><g id="k33-5"><use href="#pR" x="286.8"/></g><g id="k33-6"><use href="#pR" x="337.9"/></g><g id="k33-7"><use href="#gR" x="388.9"/></g><g id="k33-8"><use href="#pR" x="440"/></g></g>
<g id="row34" transform="translate(0 1778)"><g id="k34-1"><use href="#pL" x="82.5"/></g><g id="k34-2"><use href="#gL" x="133.6"/></g><g id="k34-3"><use href="#pL" x="184.6"/></g><g id="k34-4"><use href="#pL" x="235.7"/></g><g id="k34-5"><use href="#gL" x="286.8"/></g><g id="k34-6"><use href="#gL" x="337.9"/></g><g id="k34-7"><use href="#pL" x="388.9"/></g><g id="k34-8"><use href="#pL" x="440"/></g></g>
<g id="row35" transform="translate(0 1830)"><g id="k35-1"><use href="#pR" x="82.5"/></g><g id="k35-2"><use href="#gR" x="133.6"/></g><g id="k35-3"><use href="#pR" x="184.6"/></g><g id="k35-4"><use href="#pR" x="235.7"/></g><g id="k35-5"><use href="#pR" x="286.8"/></g><g id="k35-6"><use href="#pR" x="337.9"/></g><g id="k35-7"><use href="#pR" x="388.9"/></g><g id="k35-8"><use href="#pR" x="440"/></g></g>
<g id="row36" transform="translate(0 1882)"><g id="k36-1"><use href="#pL" x="82.5"/></g><g id="k36-2"><use href="#gL" x="133.6"/></g><g id="k36-3"><use href="#pL" x="184.6"/></g><g id="k36-4"><use href="#pL" x="235.7"/></g><g id="k36-5"><use href="#pL" x="286.8"/></g><g id="k36-6"><use href="#pL" x="337.9"/></g><g id="k36-7"><use href="#pL" x="388.9"/></g><g id="k36-8"><use href="#pL" x="440"/></g></g>
<g id="row37" transform="translate(0 1934)"><g id="k37-1"><use href="#pR" x="82.5"/></g><g id="k37-2"><use href="#pR" x="133.6"/></g><g id="k37-3"><use href="#gR" x="184.6"/></g><g id="k37-4"><use href="#pR" x="235.7"/></g><g id="k37-5"><use href="#pR" x="286.8"/></g><g id="k37-6"><use href="#pR" x="337.9"/></g><g id="k37-7"><use href="#pR" x="388.9"/></g><g id="k37-8"><use href="#pR" x="440"/></g></g>
<g id="row38" transform="translate(0 1986)"><g id="k38-1"><use href="#pL" x="82.5"/></g><g id="k38-2"><use href="#pL" x="133.6"/></g><g id="k38-3"><use href="#gL" x="184.6"/></g><g id="k38-4"><use href="#pL" x="235.7"/></g><g id="k38-5"><use href="#pL" x="286.8"/></g><g id="k38-6"><use href="#pL" x="337.9"/></g><g id="k38-7"><use href="#pL" x="388.9"/></g><g id="k38-8"><use href="#pL" x="440"/></g></g>
<g id="row39" transform="translate(0 2038)"><g id="k39-1"><use href="#pR" x="82.5"/></g><g id="k39-2"><use href="#pR" x="133.6"/></g><g id="k39-3"><use href="#gR" x="184.6"/></g><g id="k39-4"><use href="#pR" x="235.7"/></g><g id="k39-5"><use href="#pR" x="286.8"/></g><g id="k39-6"><use href="#pR" x="337.9"/></g><g id="k39-7"><use href="#pR" x="388.9"/></g><g id="k39-8"><use href="#pR" x="440"/></g></g>
<g id="row40" transform="translate(0 2090)"><g id="k40-1"><use href="#pL" x="82.5"/></g><g id="k40-2"><use href="#pL" x="133.6"/></g><g id="k40-3"><use href="#gL" x="184.6"/></g><g id="k40-4"><use href="#gL" x="235.7"/></g><g id="k40-5"><use href="#pL" x="286.8"/></g><g id="k40-6"><use href="#pL" x="337.9"/></g><g id="k40-7"><use href="#pL" x="388.9"/></g><g id="k40-8"><use href="#pL" x="440"/></g></g>
<g id="row41" transform="translate(0 2142)"><g id="k41-1"><use href="#pR" x="82.5"/></g><g id="k41-2"><use href="#pR" x="133.6"/></g><g id="k41-3"><use href="#pR" x="184.6"/></g><g id="k41-4"><use href="#gR" x="235.7"/></g><g id="k41-5"><use href="#pR" x="286.8"/></g><g id="k41-6"><use href="#pR" x="337.9"/></g><g id="k41-7"><use href="#pR" x="388.9"/></g><g id="k41-8"><use href="#pR" x="440"/></g></g>
<g id="row42" transform="translate(0 2194)"><g id="k42-1"><use href="#pL" x="82.5"/></g><g id="k42-2"><use href="#pL" x="133.6"/></g><g id="k42-3"><use href="#pL" x="184.6"/></g><g id="k42-4"><use href="#gL" x="235.7"/></g><g id="k42-5"><use href="#pL" x="286.8"/></g><g id="k42-6"><use href="#pL" x="337.9"/></g><g id="k42-7"><use href="#pL" x="388.9"/></g><g id="k42-8"><use href="#pL" x="440"/></g></g>
<g id="row43" transform="translate(0 2246)"><g id="k43-1"><use href="#pR" x="82.5"/></g><g id="k43-2"><use href="#pR" x="133.6"/></g><g id="k43-3"><use href="#pR" x="184.6"/></g><g id="k43-4"><use href="#gR" x="235.7"/></g><g id="k43-5"><use href="#pR" x="286.8"/></g><g id="k43-6"><use href="#pR" x="337.9"/></g><g id="k43-7"><use href="#pR" x="388.9"/></g><g id="k43-8"><use href="#pR" x="440"/></g></g>
<g id="row44" transform="translate(0 2298)"><g id="k44-1"><use href="#pL" x="82.5"/></g><g id="k44-2"><use href="#pL" x="133.6"/></g><g id="k44-3"><use href="#pL" x="184.6"/></g><g id="k44-4"><use href="#pL" x="235.7"/></g><g id="k44-5"><use href="#gL" x="286.8"/></g><g id="k44-6"><use href="#pL" x="337.9"/></g><g id="k44-7"><use href="#pL" x="388.9"/></g><g id="k44-8"><use href="#pL" x="440"/></g></g>
<g id="row45" transform="translate(0 2350)"><g id="k45-1"><use href="#pR" x="82.5"/></g><g id="k45-2"><use href="#pR" x="133.6"/></g><g id="k45-3"><use href="#pR" x="184.6"/></g><g id="k45-4"><use href="#pR" x="235.7"/></g><g id="k45-5"><use href="#gR" x="286.8"/></g><g id="k45-6"><use href="#pR" x="337.9"/></g><g id="k45-7"><use href="#pR" x="388.9"/></g><g id="k45-8"><use href="#pR" x="440"/></g></g>
<g id="row46" transform="translate(0 2402)"><g id="k46-1"><use href="#pL" x="82.5"/></g><g id="k46-2"><use href="#pL" x="133.6"/></g><g id="k46-3"><use href="#pL" x="184.6"/></g><g id="k46-4"><use href="#pL" x="235.7"/></g><g id="k46-5"><use href="#gL" x="286.8"/></g><g id="k46-6"><use href="#pL" x="337.9"/></g><g id="k46-7"><use href="#pL" x="388.9"/></g><g id="k46-8"><use href="#pL" x="440"/></g></g>
<g id="row47" transform="translate(0 2454)"><g id="k47-1"><use href="#pR" x="82.5"/></g><g id="k47-2"><use href="#pR" x="133.6"/></g><g id="k47-3"><use href="#pR" x="184.6"/></g><g id="k47-4"><use href="#pR" x="235.7"/></g><g id="k47-5"><use href="#pR" x="286.8"/></g><g id="k47-6"><use href="#gR" x="337.9"/></g><g id="k47-7"><use href="#pR" x="388.9"/></g><g id="k47-8"><use href="#pR" x="440"/></g></g>
<g id="row48" transform="translate(0 2506)"><g id="k48-1"><use href="#pL" x="82.5"/></g><g id="k48-2"><use href="#pL" x="133.6"/></g><g id="k48-3"><use href="#pL" x="184.6"/></g><g id="k48-4"><use href="#pL" x="235.7"/></g><g id="k48-5"><use href="#pL" x="286.8"/></g><g id="k48-6"><use href="#gL" x="337.9"/></g><g id="k48-7"><use href="#pL" x="388.9"/></g><g id="k48-8"><use href="#pL" x="440"/></g></g>
<g id="row49" transform="translate(0 2558)"><g id="k49-1"><use href="#pR" x="82.5"/></g><g id="k49-2"><use href="#pR" x="133.6"/></g><g id="k49-3"><use href="#pR" x="184.6"/></g><g id="k49-4"><use href="#pR" x="235.7"/></g><g id="k49-5"><use href="#pR" x="286.8"/></g><g id="k49-6"><use href="#gR" x="337.9"/></g><g id="k49-7"><use href="#pR" x="388.9"/></g><g id="k49-8"><use href="#pR" x="440"/></g></g>
<g id="row50" transform="translate(0 2610)"><g id="k50-1"><use href="#pL" x="82.5"/></g><g id="k50-2"><use href="#pL" x="133.6"/></g><g id="k50-3"><use href="#pL" x="184.6"/></g><g id="k50-4"><use href="#pL" x="235.7"/></g><g id="k50-5"><use href="#pL" x="286.8"/></g><g id="k50-6"><use href="#pL" x="337.9"/></g><g id="k50-7"><use href="#gL" x="388.9"/></g><g id="k50-8"><use href="#pL" x="440"/></g></g>
<g id="row51" transform="translate(0 2662)"><g id="k51-1"><use href="#pR" x="82.5"/></g><g id="k51-2"><use href="#pR" x="133.6"/></g><g id="k51-3"><use href="#pR" x="184.6"/></g><g id="k51-4"><use href="#pR" x="235.7"/></g><g id="k51-5"><use href="#pR" x="286.8"/></g><g id="k51-6"><use href="#pR" x="337.9"/></g><g id="k51-7"><use href="#gR" x="388.9"/></g><g id="k51-8"><use href="#pR" x="440"/></g></g>
<g id="row52" transform="translate(0 2714)"><g id="k52-1"><use href="#pL" x="82.5"/></g><g id="k52-2"><use href="#pL" x="133.6"/></g><g id="k52-3"><use href="#gL" x="184.6"/></g><g id="k52-4"><use href="#gL" x="235.7"/></g><g id="k52-5"><use href="#pL" x="286.8"/></g><g id="k52-6"><use href="#pL" x="337.9"/></g><g id="k52-7"><use href="#gL" x="388.9"/></g><g id="k52-8"><use href="#pL" x="440"/></g></g>
<g id="row53" transform="translate(0 2766)"><g id="k53-1"><use href="#pR" x="82.5"/></g><g id="k53-2"><use href="#gR" x="133.6"/></g><g id="k53-3"><use href="#pR" x="184.6"/></g><g id="k53-4"><use href="#pR" x="235.7"/></g><g id="k53-5"><use href="#gR" x="286.8"/></g><g id="k53-6"><use href="#pR" x="337.9"/></g><g id="k53-7"><use href="#gR" x="388.9"/></g><g id="k53-8"><use href="#pR" x="440"/></g></g>
<g id="row54" transform="translate(0 2818)"><g id="k54-1"><use href="#pL" x="82.5"/></g><g id="k54-2"><use href="#gL" x="133.6"/></g><g id="k54-3"><use href="#pL" x="184.6"/></g><g id="k54-4"><use href="#gL" x="235.7"/></g><g id="k54-5"><use href="#pL" x="286.8"/></g><g id="k54-6"><use href="#pL" x="337.9"/></g><g id="k54-7"><use href="#gL" x="388.9"/></g><g id="k54-8"><use href="#pL" x="440"/></g></g>
<g id="row55" transform="translate(0 2870)"><g id="k55-1"><use href="#pR" x="82.5"/></g><g id="k55-2"><use href="#gR" x="133.6"/></g><g id="k55-3"><use href="#pR" x="184.6"/></g><g id="k55-4"><use href="#pR" x="235.7"/></g><g id="k55-5"><use href="#pR" x="286.8"/></g><g id="k55-6"><use href="#gR" x="337.9"/></g><g id="k55-7"><use href="#pR" x="388.9"/></g><g id="k55-8"><use href="#pR" x="440"/></g></g>
<g id="row56" transform="translate(0 2922)"><g id="k56-1"><use href="#pL" x="82.5"/></g><g id="k56-2"><use href="#pL" x="133.6"/></g><g id="k56-3"><use href="#gL" x="184.6"/></g><g id="k56-4"><use href="#gL" x="235.7"/></g><g id="k56-5"><use href="#gL" x="286.8"/></g><g id="k56-6"><use href="#pL" x="337.9"/></g><g id="k56-7"><use href="#pL" x="388.9"/></g><g id="k56-8"><use href="#pL" x="440"/></g></g>
<g id="row57" transform="translate(0 2974)"><g id="k57-1"><use href="#pR" x="82.5"/></g><g id="k57-2"><use href="#pR" x="133.6"/></g><g id="k57-3"><use href="#pR" x="184.6"/></g><g id="k57-4"><use href="#pR" x="235.7"/></g><g id="k57-5"><use href="#pR" x="286.8"/></g><g id="k57-6"><use href="#pR" x="337.9"/></g><g id="k57-7"><use href="#pR" x="388.9"/></g><g id="k57-8"><use href="#pR" x="440"/></g></g>
</g>
<text id="watermark" class="wm" x="266.5" y="1549" textLength="153" lengthAdjust="spacingAndGlyphs">BRACELETBOOK.COM</text>
</svg>
